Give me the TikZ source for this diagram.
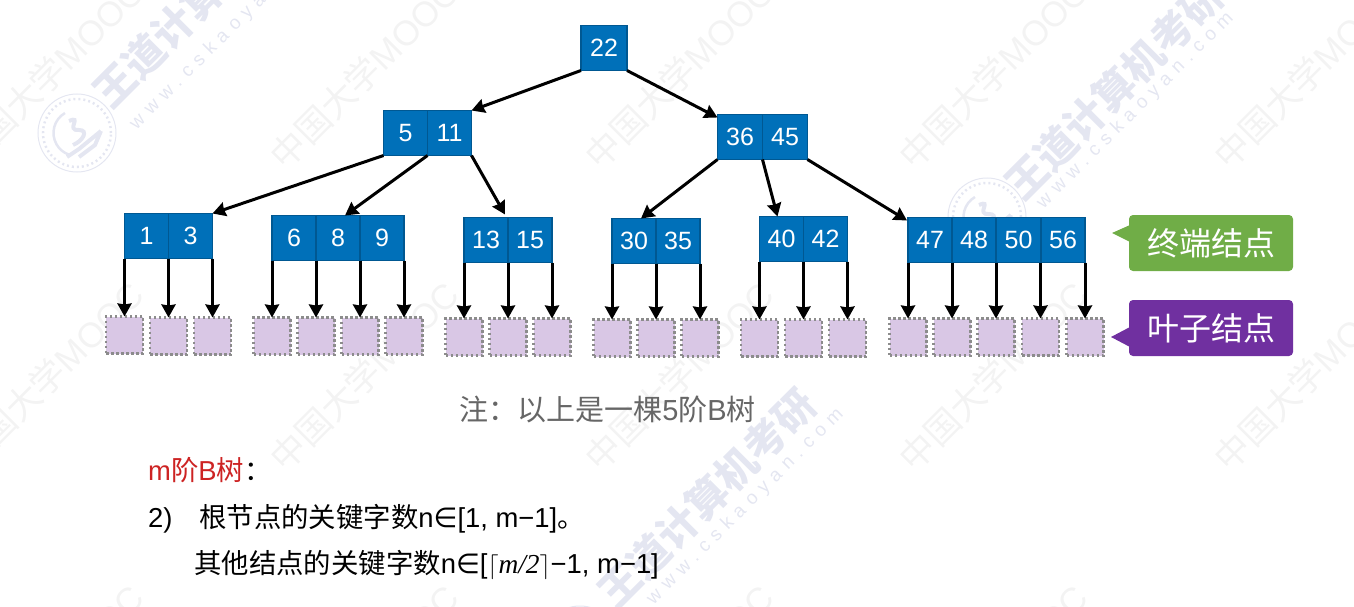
\documentclass[tikz,border=0pt]{standalone}
\usepackage[no-math]{fontspec}
\setmainfont{Liberation Sans}
\newfontfamily\cjk{Noto Sans CJK SC}
\newfontfamily\symf{DejaVu Sans}
\newfontfamily\serf{Liberation Serif}
\usetikzlibrary{arrows.meta,calc}
\definecolor{cellblue}{RGB}{0,112,185}
\definecolor{celledge}{RGB}{0,88,146}
\definecolor{leaffill}{RGB}{217,199,229}
\definecolor{tipgreen}{RGB}{112,173,71}
\definecolor{tippurple}{RGB}{112,48,160}
\definecolor{markgrey}{RGB}{243,243,243}
\definecolor{markblue}{RGB}{228,230,241}
\definecolor{titlered}{RGB}{205,35,35}
\tikzset{
    >={Stealth[length=13pt,width=14pt,inset=1pt]},
    btree/.style={
        keycell/.append style={draw=celledge,fill=cellblue,line width=1.5pt,outer sep=0pt,minimum width=44pt,minimum height=45pt,inner sep=0pt,text=white,font=\fontsize{25}{30}\selectfont},
        leafcell/.append style={draw=black!45,fill=leaffill,line width=2.5pt,dash pattern=on 2.5pt off 2.5pt,outer sep=0pt,minimum width=37pt,minimum height=37pt,inner sep=0pt},
        tipbox/.append style={rounded corners=4pt,outer sep=0pt,minimum width=164pt,minimum height=56pt,inner sep=0pt,text=white,font=\fontsize{32}{38}\selectfont\cjk},
        note/.append style={anchor=base west,inner sep=0pt,font=\fontsize{27.4}{32}\selectfont},
        mooc/.append style={anchor=west,rotate=45,inner sep=0pt,text=markgrey,font=\fontsize{35}{40}\selectfont},
        brand/.append style={anchor=west,rotate=45,inner sep=0pt,text=markblue,font=\fontsize{41}{46}\selectfont\bfseries\cjk},
        site/.append style={anchor=west,rotate=45,inner sep=0pt,text=markblue,font=\fontsize{19}{24}\selectfont\addfontfeature{LetterSpace=36}},
        link/.append style={->,line width=3pt,black}
    },
    stamp/.pic={
        \draw[markblue,line width=1pt] (0,0) circle[radius=39pt];
        \draw[markblue,line width=2.5pt,dash pattern=on 2pt off 3pt] (0,0) circle[radius=34pt];
        \draw[markblue,line width=2.5pt] (-12,-20) arc[start angle=120,end angle=250,radius=23pt];
        \draw[markblue,line width=4pt] (-8,-12) .. controls (6,-18) and (-12,-2) .. (2,-3) .. controls (12,-3) and (6,8) .. (-4,12);
        \draw[markblue,line width=4pt] (-10,24) -- (2,16) -- (24,-2) (2,24) -- (18,12) -- (24,-2);
    }
}
\newcommand{\zh}[1]{{\cjk #1}}

\begin{document}
\begin{tikzpicture}[btree,x=1pt,y=-1pt]
    \useasboundingbox (0, 0) rectangle (1354, 607);

    % background marks
    \begin{scope}
        \clip (0, 0) rectangle (1354, 607);
        \foreach \wx in {-27,288,603,917,1232}
            \foreach \wy in {150,452,755}
                \node[mooc] (mark\wx\wy) at (\wx-12, \wy+12) {\zh{中国大学}MOOC};
        \node[brand] (brandA) at (100, 100) {王道计算机考研};
        \node[site] (siteA) at (133, 127) {www.cskaoyan.com};
        \pic at (77, 133) {stamp};
        \node[brand] (brandB) at (1012, 192) {王道计算机考研};
        \node[site] (siteB) at (1040, 206) {www.cskaoyan.com};
        \pic at (987, 217) {stamp};
        \node[brand] (brandC) at (605, 600) {王道计算机考研};
        \node[site] (siteC) at (650, 602) {www.cskaoyan.com};
        \pic at (580, 645) {stamp};
    \end{scope}

    % keys
    \node[keycell,minimum width=46pt] (n22) at (604, 48) {22};
    \node[keycell] (n5) at (405.5, 133) {5};
    \node[keycell] (n11) at (449.5, 133) {11};
    \node[keycell,minimum width=45pt] (n36) at (740, 137) {36};
    \node[keycell,minimum width=45pt] (n45) at (785, 137) {45};

    \node[keycell] (n1) at (146.5, 236) {1};
    \node[keycell] (n3) at (190.5, 236) {3};
    \node[keycell] (n6) at (294, 238) {6};
    \node[keycell] (n8) at (338, 238) {8};
    \node[keycell] (n9) at (382, 238) {9};
    \node[keycell] (n13) at (486, 240) {13};
    \node[keycell] (n15) at (530, 240) {15};
    \node[keycell] (n30) at (634, 241) {30};
    \node[keycell] (n35) at (678, 241) {35};
    \node[keycell] (n40) at (781.5, 239) {40};
    \node[keycell] (n42) at (825.5, 239) {42};
    \node[keycell] (n47) at (930, 240) {47};
    \node[keycell] (n48) at (974, 240) {48};
    \node[keycell] (n50) at (1018.5, 240) {50};
    \node[keycell] (n56) at (1063, 240) {56};

    % leaves
    \node[leafcell] (a1) at (124.5, 335) {};
    \node[leafcell] (a2) at (168.5, 336) {};
    \node[leafcell] (a3) at (212.5, 336) {};
    \node[leafcell] (b1) at (272, 336) {};
    \node[leafcell] (b2) at (316, 336) {};
    \node[leafcell] (b3) at (360, 336) {};
    \node[leafcell] (b4) at (404, 336) {};
    \node[leafcell] (c1) at (464, 337) {};
    \node[leafcell] (c2) at (508, 337) {};
    \node[leafcell] (c3) at (552, 337) {};
    \node[leafcell] (d1) at (612, 338) {};
    \node[leafcell] (d2) at (656, 338) {};
    \node[leafcell] (d3) at (700, 338) {};
    \node[leafcell] (e1) at (759.5, 338) {};
    \node[leafcell] (e2) at (803.5, 338) {};
    \node[leafcell] (e3) at (847.5, 338) {};
    \node[leafcell] (f1) at (908, 337) {};
    \node[leafcell] (f2) at (952, 337) {};
    \node[leafcell] (f3) at (996, 337) {};
    \node[leafcell] (f4) at (1040.5, 337) {};
    \node[leafcell] (f5) at (1085, 337) {};

    % between keys
    \draw[link] (n22.south west) -- (n11.north east);
    \draw[link] (n22.south east) -- ($(n36.north west) + (0, 3)$);
    \draw[link] (n5.south west) -- (n3.north east);
    \draw[link] (n11.south west) -- ($(n8.north) + (7, 0)$);
    \draw[link] (n11.south east) -- ($(n13.north east) + (-3, -3)$);
    \draw[link] (n36.south west) -- ($(n30.north) + (7, 0)$);
    \draw[link] (n36.south east) -- ($(n40.north) + (-4, 0)$);
    \draw[link] (n45.south east) -- ($(n47.north west) + (-1, 3)$);

    % down to leaves
    \draw[link] (n1.south west) -- (a1.north);
    \draw[link] (n1.south east) -- (a2.north);
    \draw[link] (n3.south east) -- (a3.north);
    \draw[link] (n6.south west) -- (b1.north);
    \draw[link] (n6.south east) -- (b2.north);
    \draw[link] (n8.south east) -- (b3.north);
    \draw[link] (n9.south east) -- (b4.north);
    \draw[link] (n13.south west) -- (c1.north);
    \draw[link] (n13.south east) -- (c2.north);
    \draw[link] (n15.south east) -- (c3.north);
    \draw[link] (n30.south west) -- (d1.north);
    \draw[link] (n30.south east) -- (d2.north);
    \draw[link] (n35.south east) -- (d3.north);
    \draw[link] (n40.south west) -- (e1.north);
    \draw[link] (n40.south east) -- (e2.north);
    \draw[link] (n42.south east) -- (e3.north);
    \draw[link] (n47.south west) -- (f1.north);
    \draw[link] (n47.south east) -- (f2.north);
    \draw[link] (n48.south east) -- (f3.north);
    \draw[link] (n50.south east) -- (f4.north);
    \draw[link] (n56.south east) -- (f5.north);

    % side labels
    \node[tipbox,fill=tipgreen] (term) at (1211, 243) {终端结点};
    \fill[tipgreen] (1112, 233) -- ($(term.north west) + (1, 10)$) -- ($(term.north west) + (1, 27)$) -- cycle;
    \node[tipbox,fill=tippurple] (leaf) at (1211, 328) {叶子结点};
    \fill[tippurple] (1111, 337) -- ($(leaf.north west) + (1, 27)$) -- ($(leaf.north west) + (1, 47)$) -- cycle;

    % text below
    \node[note,anchor=base,text=black!60,font=\fontsize{29}{34}\selectfont] (cap) at (607.5, 420) {\zh{注：以上是一棵}5\zh{阶}B\zh{树}};
    \node[note] (title) at (148, 480) {\textcolor{titlered}{m\zh{阶}B\zh{树}}\zh{：}};
    \node[note] (item) at (148, 527) {2)};
    \node[note] (rootline) at (199, 527) {\zh{根节点的关键字数}n{\symf ∈}[1, m−1]\zh{。}};
    \node[note] (restline) at (194, 573) {\zh{其他结点的关键字数}n{\symf ∈}[$\lceil${\serf\itshape m/2}$\rceil$−1, m−1]};
\end{tikzpicture}
\end{document}
